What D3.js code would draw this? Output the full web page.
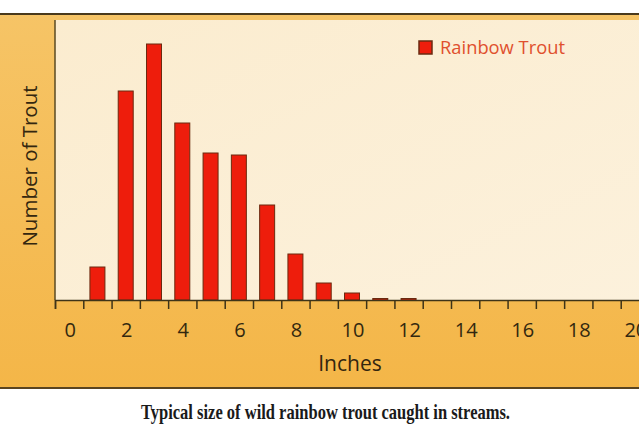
<!DOCTYPE html>
<html><head><meta charset="utf-8">
<script src="https://cdn.jsdelivr.net/npm/d3@7"></script>
<style>html,body{margin:0;padding:0;background:#fff;overflow:hidden}</style>
</head><body>
<svg id="c" width="639" height="432"></svg>
<script>
// Data
const inches = [1,2,3,4,5,6,7,8,9,10,11,12];
const counts = [33,209,256,177,147,145,95,46,17,7,1.5,1.5];
const tickLabels = [0,2,4,6,8,10,12,14,16,18,20];
const seriesName = "Rainbow Trout";
const xTitle = "Inches";
const yTitle = "Number of Trout";
const caption = "Typical size of wild rainbow trout caught in streams.";

const svg = d3.select("#c");
const font = "'Open Sans', sans-serif";
const defs = svg.append("defs");
const g1 = defs.append("linearGradient").attr("id","frame").attr("x1",0).attr("y1",0).attr("x2",0).attr("y2",1);
g1.append("stop").attr("offset","0%").attr("stop-color","#f6c466");
g1.append("stop").attr("offset","100%").attr("stop-color","#f4b648");
const g2 = defs.append("linearGradient").attr("id","plot").attr("x1",0).attr("y1",0).attr("x2",1).attr("y2",1);
g2.append("stop").attr("offset","0%").attr("stop-color","#fbeccf");
g2.append("stop").attr("offset","100%").attr("stop-color","#fcf1dc");

// frame
svg.append("rect").attr("x",-2).attr("y",14).attr("width",660).attr("height",374)
  .attr("fill","url(#frame)");
svg.append("line").attr("x1",0).attr("x2",639).attr("y1",14).attr("y2",14)
  .attr("stroke","#4a3a1c").attr("stroke-width",2);
svg.append("line").attr("x1",0).attr("x2",639).attr("y1",388).attr("y2",388)
  .attr("stroke","#5a4420").attr("stroke-width",2);

const plotTop = 20, base = 300;
const x = d3.scaleLinear().domain([-0.5, 20.5]).range([55, 649]);
const y = d3.scaleLinear().domain([0, 280]).range([base, plotTop]);

// plot area
svg.append("rect").attr("x",x(-0.5)).attr("y",plotTop).attr("width",660-x(-0.5)).attr("height",base-plotTop)
  .attr("fill","url(#plot)");
svg.append("line").attr("x1",x(-0.5)).attr("x2",x(-0.5)).attr("y1",plotTop).attr("y2",base)
  .attr("stroke","#5a4a22").attr("stroke-width",1.5);

// bars
const bw = 15;
svg.append("g").selectAll("rect").data(inches).join("rect")
  .attr("x",(d)=>x(d)-bw/2).attr("width",bw)
  .attr("y",(d,i)=>y(counts[i])).attr("height",(d,i)=>base-y(counts[i]))
  .attr("fill","#ee1d0c").attr("stroke","#6a2a10").attr("stroke-width",1);

// x axis
const halfTicks = d3.range(-0.5, 21, 1);
const axis = d3.axisBottom(x).tickValues(halfTicks).tickSize(9).tickFormat("");
const ax = svg.append("g").attr("transform",`translate(0,${base})`).call(axis);
ax.select(".domain").attr("stroke","#3e3418").attr("stroke-width",1.5);
ax.selectAll(".tick line").attr("stroke","#3e3418").attr("stroke-width",1.5);

svg.append("g").selectAll("text").data(tickLabels).join("text")
  .attr("x",d=>x(d)+1).attr("y",337).attr("text-anchor","middle")
  .attr("font-family",font).attr("font-size",20).attr("fill","#33280f")
  .text(d=>d);

svg.append("text").attr("x",350).attr("y",371).attr("text-anchor","middle")
  .attr("font-family",font).attr("font-size",21).attr("fill","#33260f").text(xTitle);

svg.append("text").attr("transform","translate(37,166) rotate(-90)").attr("text-anchor","middle")
  .attr("font-family",font).attr("font-size",20.5).attr("fill","#33260f").text(yTitle);

// legend
svg.append("rect").attr("x",419).attr("y",41).attr("width",13).attr("height",13)
  .attr("fill","#ee1d0c").attr("stroke","#6a2a10").attr("stroke-width",1.5);
svg.append("text").attr("x",440).attr("y",54).attr("font-family",font).attr("font-size",18)
  .attr("fill","#e0502e").attr("textLength",125).attr("lengthAdjust","spacingAndGlyphs").text(seriesName);

// caption
svg.append("text").attr("x",141).attr("y",419).attr("font-family","'Liberation Serif', serif")
  .attr("font-weight","bold").attr("font-size",21).attr("fill","#1a1a1a")
  .attr("textLength",369).attr("lengthAdjust","spacingAndGlyphs").text(caption);
</script>
</body></html>
